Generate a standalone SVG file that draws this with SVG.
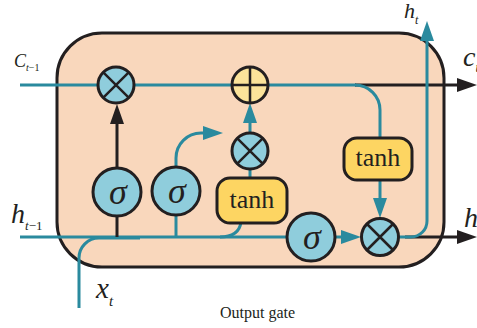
<svg xmlns="http://www.w3.org/2000/svg" width="477" height="328" viewBox="0 0 477 328">
<style>
.tl{fill:none;stroke:#2a8a9e;stroke-width:3}
.bl{fill:none;stroke:#231f20;stroke-width:3}
.ci{fill:#8fcddc;stroke:#231f20;stroke-width:3}
.pl{fill:#fbe39a;stroke:#231f20;stroke-width:3}
.th{fill:#fdd562;stroke:#231f20;stroke-width:3}
.x{stroke:#231f20;stroke-width:2.5}
.sg{font-family:"Liberation Serif",serif;font-style:italic;font-size:36px;fill:#231f20;text-anchor:middle}
.tt{font-family:"Liberation Serif",serif;font-size:26px;fill:#231f20;text-anchor:middle}
.lb{font-family:"Liberation Serif",serif;font-style:italic;fill:#231f20}
</style>
<defs>
<marker id="at" markerUnits="userSpaceOnUse" markerWidth="20" markerHeight="14" refX="3" refY="7" orient="auto"><path d="M0,0 L20,7 L0,14 z" fill="#2a8a9e"/></marker>
<marker id="ab" markerUnits="userSpaceOnUse" markerWidth="20" markerHeight="14" refX="3" refY="7" orient="auto"><path d="M0,0 L20,7 L0,14 z" fill="#231f20"/></marker>
</defs>
<rect id="cell" x="57" y="33" width="387" height="234" rx="45" fill="#f9d7bc" stroke="#231f20" stroke-width="3"/>
<g id="connectors">
<path class="tl" d="M20,85 H356"/>
<path class="bl" d="M355,85 H460" marker-end="url(#ab)"/>
<path class="tl" d="M355,85 A25,25 0 0 1 380,110 V138"/>
<path class="tl" d="M380,180 V201" marker-end="url(#at)"/>
<path class="bl" d="M405,237 H460" marker-end="url(#ab)"/>
<path class="tl" d="M398,237 H411 A16,16 0 0 0 427,221 V38" marker-end="url(#at)"/>
<path class="tl" d="M20,237 H290"/>
<path class="tl" d="M79,308 V258 A20,20 0 0 1 99,238 H140"/>
<path class="bl" d="M117,216 V237"/>
<path class="bl" d="M117,168 V121" marker-end="url(#ab)"/>
<path class="tl" d="M176,215 V237"/>
<path class="tl" d="M176,167 V158 A25,25 0 0 1 201,133 H206" marker-end="url(#at)"/>
<path class="tl" d="M250,178 V168"/>
<path class="tl" d="M241,222 Q239,237 220,237"/>
<path class="tl" d="M250,133 V120" marker-end="url(#at)"/>
<path class="tl" d="M335,237 H344" marker-end="url(#at)"/>
</g>
<g id="mul1"><circle class="ci" cx="116" cy="85" r="18"/><path class="x" d="M103.3,72.3 L128.7,97.7 M128.7,72.3 L103.3,97.7"/></g>
<g id="plus"><circle class="pl" cx="250" cy="85" r="18"/><path class="x" d="M232,85 H268 M250,67 V103"/></g>
<g id="mul2"><circle class="ci" cx="250" cy="151" r="18"/><path class="x" d="M237.3,138.3 L262.7,163.7 M262.7,138.3 L237.3,163.7"/></g>
<g id="sigma1"><circle class="ci" cx="117" cy="192" r="24"/><text class="sg" x="118" y="204">σ</text></g>
<g id="sigma2"><circle class="ci" cx="176" cy="191" r="24"/><text class="sg" x="177" y="203">σ</text></g>
<g id="tanh1"><rect class="th" x="217" y="178" width="70" height="45" rx="13"/><text class="tt" x="252" y="208">tanh</text></g>
<g id="tanh2"><rect class="th" x="344" y="138" width="68" height="42" rx="13"/><text class="tt" x="378" y="166">tanh</text></g>
<g id="sigma3"><circle class="ci" cx="311" cy="237" r="24"/><text class="sg" x="312" y="249">σ</text></g>
<g id="mul3"><circle class="ci" cx="380" cy="237" r="18.5"/><path class="x" d="M367,224 L393,250 M393,224 L367,250"/></g>
<g id="labels">
<text class="lb" x="14" y="67" font-size="18">C<tspan font-size="10" dy="4">t</tspan><tspan font-size="10" font-style="normal">−1</tspan></text>
<text class="lb" x="11" y="223" font-size="28">h<tspan font-size="13" dy="7">t</tspan><tspan font-size="13" font-style="normal">−1</tspan></text>
<text class="lb" x="96" y="298" font-size="29">x<tspan font-size="15" dy="8">t</tspan></text>
<text class="lb" x="404" y="18" font-size="22">h<tspan font-size="12" dy="6">t</tspan></text>
<text class="lb" x="463" y="66" font-size="28">c<tspan font-size="14" dy="6">t</tspan></text>
<text class="lb" x="464" y="227" font-size="28">h<tspan font-size="14" dy="6">t</tspan></text>
<text x="220" y="318" font-family="Liberation Serif,serif" font-size="16" fill="#231f20">Output gate</text>
</g>
</svg>
